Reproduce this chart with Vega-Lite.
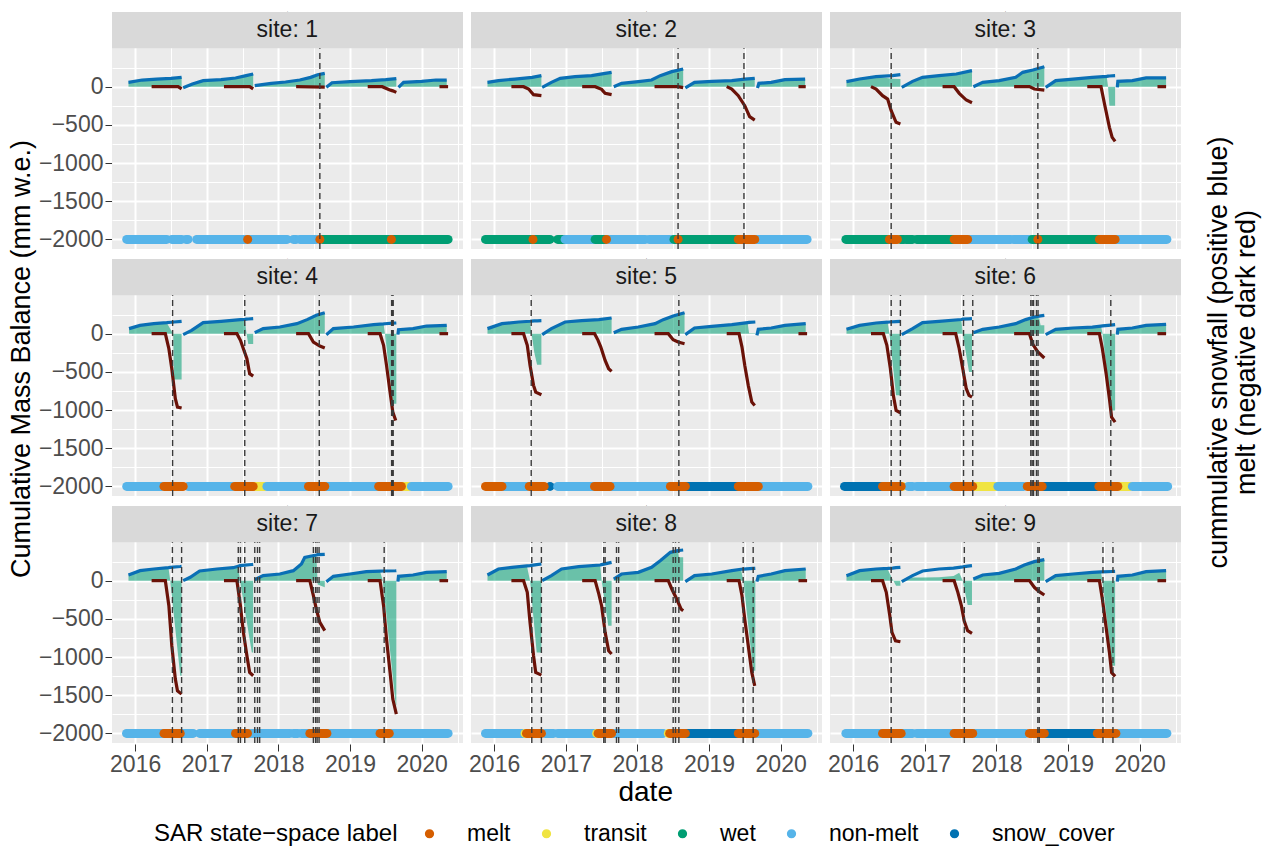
{
"$schema":"https://vega.github.io/schema/vega-lite/v6.json",
"background":"white",
"padding":{"left":8,"top":11,"right":4,"bottom":5},
"title":{"text":["cummulative snowfall (positive blue)","melt (negative dark red)"],"orient":"right","anchor":"middle","angle":-90,"baseline":"top","offset":10,"dx":76,"dy":-40,"fontSize":27,"lineHeight":28},
"vconcat":[{
"title":{"text":"Cumulative Mass Balance (mm w.e.)","orient":"left","anchor":"middle","offset":2,"dx":50,"fontSize":27},
"vconcat":[{
"data":{"values":[
{"k":"h","s":1,"t":"site: 1"},{"k":"h","s":2,"t":"site: 2"},{"k":"h","s":3,"t":"site: 3"},{"k":"h","s":4,"t":"site: 4"},{"k":"h","s":5,"t":"site: 5"},{"k":"h","s":6,"t":"site: 6"},{"k":"h","s":7,"t":"site: 7"},{"k":"h","s":8,"t":"site: 8"},{"k":"h","s":9,"t":"site: 9"},

{"k":"s","s":1,"g":1,"d":"2015-11-28","b":57,"n":57},{"k":"s","s":1,"g":1,"d":"2016-02-06","b":87,"n":87},{"k":"s","s":1,"g":1,"d":"2016-04-20","b":100,"n":100},{"k":"s","s":1,"g":1,"d":"2016-07-02","b":109,"n":109},{"k":"s","s":1,"g":1,"d":"2016-08-25","b":122,"n":122},
{"k":"s","s":1,"g":2,"d":"2016-09-02","b":-13,"n":-13},{"k":"s","s":1,"g":2,"d":"2016-10-19","b":35,"n":35},{"k":"s","s":1,"g":2,"d":"2016-12-13","b":79,"n":79},{"k":"s","s":1,"g":2,"d":"2017-03-14","b":92,"n":92},{"k":"s","s":1,"g":2,"d":"2017-05-27","b":114,"n":114},{"k":"s","s":1,"g":2,"d":"2017-07-20","b":144,"n":144},{"k":"s","s":1,"g":2,"d":"2017-08-25","b":166,"n":166},
{"k":"s","s":1,"g":3,"d":"2017-09-02","b":13,"n":13},{"k":"s","s":1,"g":3,"d":"2017-11-25","b":44,"n":44},{"k":"s","s":1,"g":3,"d":"2018-02-06","b":61,"n":61},{"k":"s","s":1,"g":3,"d":"2018-04-20","b":87,"n":87},{"k":"s","s":1,"g":3,"d":"2018-06-14","b":122,"n":122},{"k":"s","s":1,"g":3,"d":"2018-07-20","b":157,"n":157},{"k":"s","s":1,"g":3,"d":"2018-08-25","b":175,"n":175},
{"k":"s","s":1,"g":4,"d":"2018-09-02","b":-9,"n":-9},{"k":"s","s":1,"g":4,"d":"2018-10-01","b":52,"n":52},{"k":"s","s":1,"g":4,"d":"2019-01-01","b":66,"n":66},{"k":"s","s":1,"g":4,"d":"2019-04-20","b":79,"n":79},{"k":"s","s":1,"g":4,"d":"2019-07-02","b":92,"n":92},{"k":"s","s":1,"g":4,"d":"2019-08-25","b":105,"n":105},
{"k":"s","s":1,"g":5,"d":"2019-09-05","b":-9,"n":-9},{"k":"s","s":1,"g":5,"d":"2019-10-01","b":57,"n":57},{"k":"s","s":1,"g":5,"d":"2020-01-01","b":70,"n":70},{"k":"s","s":1,"g":5,"d":"2020-03-14","b":87,"n":87},{"k":"s","s":1,"g":5,"d":"2020-05-08","b":87,"n":87},
{"k":"m","s":1,"g":1,"d":"2016-03-25","m":0},{"k":"m","s":1,"g":1,"d":"2016-08-07","m":0},{"k":"m","s":1,"g":1,"d":"2016-08-25","m":-30},
{"k":"m","s":1,"g":2,"d":"2017-03-29","m":0},{"k":"m","s":1,"g":2,"d":"2017-08-07","m":0},{"k":"m","s":1,"g":2,"d":"2017-08-25","m":-30},
{"k":"m","s":1,"g":3,"d":"2018-04-01","m":0},{"k":"m","s":1,"g":3,"d":"2018-08-25","m":-5},
{"k":"m","s":1,"g":4,"d":"2019-04-01","m":0},{"k":"m","s":1,"g":4,"d":"2019-06-14","m":0},{"k":"m","s":1,"g":4,"d":"2019-07-20","m":-40},{"k":"m","s":1,"g":4,"d":"2019-08-07","m":-55},{"k":"m","s":1,"g":4,"d":"2019-08-25","m":-75},
{"k":"m","s":1,"g":5,"d":"2020-04-01","m":0},{"k":"m","s":1,"g":5,"d":"2020-05-15","m":0},
{"k":"p","s":1,"d":"2015-11-19","e":"2016-06-10","l":"non-melt"},{"k":"p","s":1,"d":"2016-07-06","e":"2016-08-25","l":"non-melt"},{"k":"p","s":1,"d":"2016-09-16","e":"2016-09-27","l":"non-melt"},{"k":"p","s":1,"d":"2016-11-10","e":"2017-07-20","l":"non-melt"},{"k":"p","s":1,"d":"2017-08-07","e":"2018-02-14","l":"non-melt"},{"k":"p","s":1,"d":"2018-03-18","e":"2018-04-01","l":"non-melt"},{"k":"p","s":1,"d":"2018-04-20","e":"2018-07-14","l":"non-melt"},{"k":"p","s":1,"d":"2018-08-14","e":"2020-05-15","l":"wet"},{"k":"p","s":1,"d":"2017-07-28","e":"2017-07-28","l":"melt"},{"k":"p","s":1,"d":"2018-07-31","e":"2018-07-31","l":"melt"},{"k":"p","s":1,"d":"2019-07-31","e":"2019-07-31","l":"melt"},
{"k":"v","s":1,"d":"2018-07-31"},

{"k":"s","s":2,"g":1,"d":"2015-11-28","b":57,"n":57},{"k":"s","s":2,"g":1,"d":"2016-01-23","b":79,"n":79},{"k":"s","s":2,"g":1,"d":"2016-04-16","b":100,"n":100},{"k":"s","s":2,"g":1,"d":"2016-07-13","b":122,"n":122},{"k":"s","s":2,"g":1,"d":"2016-08-29","b":144,"n":144},
{"k":"s","s":2,"g":2,"d":"2016-09-02","b":-9,"n":-9},{"k":"s","s":2,"g":2,"d":"2016-10-19","b":57,"n":57},{"k":"s","s":2,"g":2,"d":"2016-12-03","b":109,"n":109},{"k":"s","s":2,"g":2,"d":"2017-02-17","b":131,"n":131},{"k":"s","s":2,"g":2,"d":"2017-05-12","b":144,"n":144},{"k":"s","s":2,"g":2,"d":"2017-07-20","b":175,"n":175},{"k":"s","s":2,"g":2,"d":"2017-08-22","b":188,"n":188},
{"k":"s","s":2,"g":3,"d":"2017-09-02","b":0,"n":0},{"k":"s","s":2,"g":3,"d":"2017-10-12","b":44,"n":44},{"k":"s","s":2,"g":3,"d":"2018-01-05","b":66,"n":66},{"k":"s","s":2,"g":3,"d":"2018-03-14","b":87,"n":87},{"k":"s","s":2,"g":3,"d":"2018-04-27","b":144,"n":144},{"k":"s","s":2,"g":3,"d":"2018-06-25","b":197,"n":197},{"k":"s","s":2,"g":3,"d":"2018-08-22","b":232,"n":232},
{"k":"s","s":2,"g":4,"d":"2018-09-02","b":-17,"n":-17},{"k":"s","s":2,"g":4,"d":"2018-10-19","b":57,"n":57},{"k":"s","s":2,"g":4,"d":"2019-01-15","b":70,"n":70},{"k":"s","s":2,"g":4,"d":"2019-04-27","b":79,"n":79},{"k":"s","s":2,"g":4,"d":"2019-07-02","b":100,"n":100},{"k":"s","s":2,"g":4,"d":"2019-08-22","b":109,"n":109},
{"k":"s","s":2,"g":5,"d":"2019-09-05","b":-17,"n":-17},{"k":"s","s":2,"g":5,"d":"2019-09-12","b":44,"n":44},{"k":"s","s":2,"g":5,"d":"2019-11-14","b":57,"n":57},{"k":"s","s":2,"g":5,"d":"2020-01-23","b":92,"n":92},{"k":"s","s":2,"g":5,"d":"2020-05-05","b":100,"n":100},
{"k":"m","s":2,"g":1,"d":"2016-03-29","m":0},{"k":"m","s":2,"g":1,"d":"2016-05-30","m":0},{"k":"m","s":2,"g":1,"d":"2016-06-25","m":-30},{"k":"m","s":2,"g":1,"d":"2016-07-20","m":-105},{"k":"m","s":2,"g":1,"d":"2016-08-29","m":-118},
{"k":"m","s":2,"g":2,"d":"2017-03-25","m":0},{"k":"m","s":2,"g":2,"d":"2017-05-30","m":0},{"k":"m","s":2,"g":2,"d":"2017-07-02","m":-35},{"k":"m","s":2,"g":2,"d":"2017-07-20","m":-87},{"k":"m","s":2,"g":2,"d":"2017-08-22","m":-105},
{"k":"m","s":2,"g":3,"d":"2018-03-29","m":0},{"k":"m","s":2,"g":3,"d":"2018-07-27","m":0},{"k":"m","s":2,"g":3,"d":"2018-08-22","m":-13},
{"k":"m","s":2,"g":4,"d":"2019-04-01","m":0},{"k":"m","s":2,"g":4,"d":"2019-04-27","m":-31},{"k":"m","s":2,"g":4,"d":"2019-05-30","m":-118},{"k":"m","s":2,"g":4,"d":"2019-07-02","m":-249},{"k":"m","s":2,"g":4,"d":"2019-07-27","m":-393},{"k":"m","s":2,"g":4,"d":"2019-08-22","m":-437},
{"k":"m","s":2,"g":5,"d":"2020-04-01","m":0},{"k":"m","s":2,"g":5,"d":"2020-05-08","m":0},
{"k":"p","s":2,"d":"2015-11-18","e":"2016-10-12","l":"wet"},{"k":"p","s":2,"d":"2016-11-20","e":"2016-12-28","l":"wet"},{"k":"p","s":2,"d":"2016-12-28","e":"2017-05-30","l":"non-melt"},{"k":"p","s":2,"d":"2017-05-30","e":"2017-07-20","l":"wet"},{"k":"p","s":2,"d":"2017-08-07","e":"2018-02-10","l":"non-melt"},{"k":"p","s":2,"d":"2018-03-01","e":"2018-06-25","l":"non-melt"},{"k":"p","s":2,"d":"2018-07-06","e":"2019-05-30","l":"wet"},{"k":"p","s":2,"d":"2019-09-02","e":"2020-05-15","l":"non-melt"},{"k":"p","s":2,"d":"2016-07-17","e":"2016-07-17","l":"melt"},{"k":"p","s":2,"d":"2017-07-27","e":"2017-07-27","l":"melt"},{"k":"p","s":2,"d":"2018-07-27","e":"2018-07-27","l":"melt"},{"k":"p","s":2,"d":"2019-05-30","e":"2019-08-22","l":"melt"},
{"k":"v","s":2,"d":"2018-07-27"},{"k":"v","s":2,"d":"2019-06-28"},

{"k":"s","s":3,"g":1,"d":"2015-11-28","b":66,"n":66},{"k":"s","s":3,"g":1,"d":"2016-02-03","b":100,"n":100},{"k":"s","s":3,"g":1,"d":"2016-04-27","b":131,"n":131},{"k":"s","s":3,"g":1,"d":"2016-07-20","b":144,"n":105},{"k":"s","s":3,"g":1,"d":"2016-08-29","b":157,"n":100},
{"k":"s","s":3,"g":2,"d":"2016-09-05","b":-9,"n":-9},{"k":"s","s":3,"g":2,"d":"2016-10-30","b":70,"n":70},{"k":"s","s":3,"g":2,"d":"2016-12-20","b":122,"n":122},{"k":"s","s":3,"g":2,"d":"2017-03-14","b":144,"n":144},{"k":"s","s":3,"g":2,"d":"2017-06-10","b":166,"n":166},{"k":"s","s":3,"g":2,"d":"2017-08-29","b":210,"n":210},
{"k":"s","s":3,"g":3,"d":"2017-09-05","b":0,"n":0},{"k":"s","s":3,"g":3,"d":"2017-10-23","b":57,"n":57},{"k":"s","s":3,"g":3,"d":"2018-01-15","b":79,"n":79},{"k":"s","s":3,"g":3,"d":"2018-04-09","b":122,"n":122},{"k":"s","s":3,"g":3,"d":"2018-05-15","b":188,"n":188},{"k":"s","s":3,"g":3,"d":"2018-07-06","b":219,"n":219},{"k":"s","s":3,"g":3,"d":"2018-09-02","b":262,"n":262},
{"k":"s","s":3,"g":4,"d":"2018-09-09","b":-9,"n":-9},{"k":"s","s":3,"g":4,"d":"2018-10-30","b":79,"n":79},{"k":"s","s":3,"g":4,"d":"2019-01-26","b":100,"n":100},{"k":"s","s":3,"g":4,"d":"2019-05-05","b":122,"n":122},{"k":"s","s":3,"g":4,"d":"2019-07-17","b":135,"n":135},{"k":"s","s":3,"g":4,"d":"2019-07-24","b":138,"n":0},{"k":"s","s":3,"g":4,"d":"2019-07-31","b":140,"n":-250},{"k":"s","s":3,"g":4,"d":"2019-08-29","b":144,"n":-250},
{"k":"s","s":3,"g":5,"d":"2019-09-09","b":-9,"n":-9},{"k":"s","s":3,"g":5,"d":"2019-09-12","b":70,"n":70},{"k":"s","s":3,"g":5,"d":"2019-11-25","b":79,"n":79},{"k":"s","s":3,"g":5,"d":"2020-02-03","b":114,"n":114},{"k":"s","s":3,"g":5,"d":"2020-05-15","b":114,"n":114},
{"k":"m","s":3,"g":1,"d":"2016-04-01","m":0},{"k":"m","s":3,"g":1,"d":"2016-04-27","m":-31},{"k":"m","s":3,"g":1,"d":"2016-05-30","m":-118},{"k":"m","s":3,"g":1,"d":"2016-06-25","m":-162},{"k":"m","s":3,"g":1,"d":"2016-07-13","m":-315},{"k":"m","s":3,"g":1,"d":"2016-08-07","m":-467},{"k":"m","s":3,"g":1,"d":"2016-08-29","m":-489},
{"k":"m","s":3,"g":2,"d":"2017-04-01","m":0},{"k":"m","s":3,"g":2,"d":"2017-05-30","m":0},{"k":"m","s":3,"g":2,"d":"2017-06-25","m":-87},{"k":"m","s":3,"g":2,"d":"2017-07-31","m":-175},{"k":"m","s":3,"g":2,"d":"2017-08-29","m":-210},
{"k":"m","s":3,"g":3,"d":"2018-04-01","m":0},{"k":"m","s":3,"g":3,"d":"2018-06-18","m":0},{"k":"m","s":3,"g":3,"d":"2018-07-13","m":-31},{"k":"m","s":3,"g":3,"d":"2018-09-02","m":-44},
{"k":"m","s":3,"g":4,"d":"2019-04-09","m":0},{"k":"m","s":3,"g":4,"d":"2019-06-18","m":0},{"k":"m","s":3,"g":4,"d":"2019-07-06","m":-227},{"k":"m","s":3,"g":4,"d":"2019-07-31","m":-533},{"k":"m","s":3,"g":4,"d":"2019-08-14","m":-664},{"k":"m","s":3,"g":4,"d":"2019-08-29","m":-716},
{"k":"m","s":3,"g":5,"d":"2020-04-01","m":0},{"k":"m","s":3,"g":5,"d":"2020-05-15","m":0},
{"k":"p","s":3,"d":"2015-11-25","e":"2016-07-04","l":"wet"},{"k":"p","s":3,"d":"2016-08-29","e":"2016-09-16","l":"wet"},{"k":"p","s":3,"d":"2016-09-27","e":"2016-10-30","l":"wet"},{"k":"p","s":3,"d":"2016-11-20","e":"2017-05-30","l":"wet"},{"k":"p","s":3,"d":"2017-08-14","e":"2018-03-14","l":"non-melt"},{"k":"p","s":3,"d":"2018-03-29","e":"2018-07-02","l":"non-melt"},{"k":"p","s":3,"d":"2018-07-02","e":"2019-06-07","l":"wet"},{"k":"p","s":3,"d":"2019-09-02","e":"2020-05-19","l":"non-melt"},{"k":"p","s":3,"d":"2016-07-04","e":"2016-08-14","l":"melt"},{"k":"p","s":3,"d":"2017-05-30","e":"2017-08-07","l":"melt"},{"k":"p","s":3,"d":"2018-07-31","e":"2018-07-31","l":"melt"},{"k":"p","s":3,"d":"2019-06-10","e":"2019-08-29","l":"melt"},
{"k":"v","s":3,"d":"2016-07-13"},{"k":"v","s":3,"d":"2018-07-31"},

{"k":"s","s":4,"g":1,"d":"2015-12-01","b":66,"n":66},{"k":"s","s":4,"g":1,"d":"2016-01-26","b":109,"n":109},{"k":"s","s":4,"g":1,"d":"2016-04-05","b":131,"n":131},{"k":"s","s":4,"g":1,"d":"2016-06-10","b":144,"n":144},{"k":"s","s":4,"g":1,"d":"2016-07-02","b":150,"n":44},{"k":"s","s":4,"g":1,"d":"2016-07-13","b":152,"n":0},{"k":"s","s":4,"g":1,"d":"2016-07-17","b":153,"n":-600},{"k":"s","s":4,"g":1,"d":"2016-08-25","b":162,"n":-600},
{"k":"s","s":4,"g":2,"d":"2016-09-02","b":-13,"n":-13},{"k":"s","s":4,"g":2,"d":"2016-10-15","b":44,"n":44},{"k":"s","s":4,"g":2,"d":"2016-12-13","b":144,"n":144},{"k":"s","s":4,"g":2,"d":"2017-03-14","b":162,"n":162},{"k":"s","s":4,"g":2,"d":"2017-06-21","b":184,"n":184},{"k":"s","s":4,"g":2,"d":"2017-07-14","b":188,"n":170},{"k":"s","s":4,"g":2,"d":"2017-07-22","b":190,"n":0},{"k":"s","s":4,"g":2,"d":"2017-07-31","b":192,"n":-135},{"k":"s","s":4,"g":2,"d":"2017-08-25","b":197,"n":-135},
{"k":"s","s":4,"g":3,"d":"2017-09-02","b":13,"n":13},{"k":"s","s":4,"g":3,"d":"2017-10-15","b":66,"n":66},{"k":"s","s":4,"g":3,"d":"2018-01-08","b":87,"n":87},{"k":"s","s":4,"g":3,"d":"2018-04-05","b":131,"n":131},{"k":"s","s":4,"g":3,"d":"2018-05-27","b":184,"n":184},{"k":"s","s":4,"g":3,"d":"2018-07-13","b":240,"n":240},{"k":"s","s":4,"g":3,"d":"2018-08-25","b":275,"n":275},
{"k":"s","s":4,"g":4,"d":"2018-09-02","b":-13,"n":-13},{"k":"s","s":4,"g":4,"d":"2018-10-08","b":66,"n":66},{"k":"s","s":4,"g":4,"d":"2019-01-19","b":87,"n":87},{"k":"s","s":4,"g":4,"d":"2019-05-01","b":118,"n":118},{"k":"s","s":4,"g":4,"d":"2019-06-21","b":128,"n":128},{"k":"s","s":4,"g":4,"d":"2019-06-28","b":130,"n":0},{"k":"s","s":4,"g":4,"d":"2019-08-07","b":137,"n":-918},{"k":"s","s":4,"g":4,"d":"2019-08-25","b":140,"n":-918},
{"k":"s","s":4,"g":5,"d":"2019-09-02","b":-13,"n":-13},{"k":"s","s":4,"g":5,"d":"2019-09-05","b":52,"n":52},{"k":"s","s":4,"g":5,"d":"2019-11-18","b":66,"n":66},{"k":"s","s":4,"g":5,"d":"2020-01-26","b":100,"n":100},{"k":"s","s":4,"g":5,"d":"2020-05-08","b":109,"n":109},
{"k":"m","s":4,"g":1,"d":"2016-03-25","m":0},{"k":"m","s":4,"g":1,"d":"2016-06-03","m":0},{"k":"m","s":4,"g":1,"d":"2016-06-21","m":-197},{"k":"m","s":4,"g":1,"d":"2016-07-06","m":-459},{"k":"m","s":4,"g":1,"d":"2016-07-24","m":-852},{"k":"m","s":4,"g":1,"d":"2016-08-04","m":-961},{"k":"m","s":4,"g":1,"d":"2016-08-25","m":-974},
{"k":"m","s":4,"g":2,"d":"2017-03-29","m":0},{"k":"m","s":4,"g":2,"d":"2017-06-03","m":0},{"k":"m","s":4,"g":2,"d":"2017-06-21","m":-87},{"k":"m","s":4,"g":2,"d":"2017-07-06","m":-197},{"k":"m","s":4,"g":2,"d":"2017-07-24","m":-328},{"k":"m","s":4,"g":2,"d":"2017-08-07","m":-524},{"k":"m","s":4,"g":2,"d":"2017-08-25","m":-555},
{"k":"m","s":4,"g":3,"d":"2018-04-01","m":0},{"k":"m","s":4,"g":3,"d":"2018-06-03","m":0},{"k":"m","s":4,"g":3,"d":"2018-06-28","m":-109},{"k":"m","s":4,"g":3,"d":"2018-07-31","m":-162},{"k":"m","s":4,"g":3,"d":"2018-08-25","m":-188},
{"k":"m","s":4,"g":4,"d":"2019-04-01","m":0},{"k":"m","s":4,"g":4,"d":"2019-06-03","m":0},{"k":"m","s":4,"g":4,"d":"2019-06-21","m":-153},{"k":"m","s":4,"g":4,"d":"2019-07-06","m":-415},{"k":"m","s":4,"g":4,"d":"2019-07-24","m":-765},{"k":"m","s":4,"g":4,"d":"2019-08-07","m":-1027},{"k":"m","s":4,"g":4,"d":"2019-08-22","m":-1136},
{"k":"m","s":4,"g":5,"d":"2020-04-01","m":0},{"k":"m","s":4,"g":5,"d":"2020-05-15","m":0},
{"k":"p","s":4,"d":"2015-11-19","e":"2016-05-15","l":"non-melt"},{"k":"p","s":4,"d":"2016-09-27","e":"2017-05-12","l":"non-melt"},{"k":"p","s":4,"d":"2017-08-29","e":"2017-10-23","l":"transit"},{"k":"p","s":4,"d":"2017-11-03","e":"2018-05-23","l":"non-melt"},{"k":"p","s":4,"d":"2018-09-02","e":"2019-05-19","l":"non-melt"},{"k":"p","s":4,"d":"2019-09-20","e":"2019-11-03","l":"transit"},{"k":"p","s":4,"d":"2019-11-10","e":"2020-05-15","l":"non-melt"},{"k":"p","s":4,"d":"2016-05-27","e":"2016-09-02","l":"melt"},{"k":"p","s":4,"d":"2017-05-23","e":"2017-08-25","l":"melt"},{"k":"p","s":4,"d":"2018-06-03","e":"2018-08-25","l":"melt"},{"k":"p","s":4,"d":"2019-05-27","e":"2019-09-20","l":"melt"},
{"k":"v","s":4,"d":"2016-07-10"},{"k":"v","s":4,"d":"2017-07-13"},{"k":"v","s":4,"d":"2018-07-28"},{"k":"v","s":4,"d":"2019-08-01"},{"k":"v","s":4,"d":"2019-08-05"},{"k":"v","s":4,"d":"2019-08-09"},

{"k":"s","s":5,"g":1,"d":"2015-11-28","b":66,"n":66},{"k":"s","s":5,"g":1,"d":"2016-02-10","b":131,"n":131},{"k":"s","s":5,"g":1,"d":"2016-05-05","b":153,"n":153},{"k":"s","s":5,"g":1,"d":"2016-07-02","b":163,"n":163},{"k":"s","s":5,"g":1,"d":"2016-07-10","b":165,"n":0},{"k":"s","s":5,"g":1,"d":"2016-07-24","b":167,"n":-250},{"k":"s","s":5,"g":1,"d":"2016-08-07","b":168,"n":-406},{"k":"s","s":5,"g":1,"d":"2016-08-29","b":170,"n":-406},
{"k":"s","s":5,"g":2,"d":"2016-09-02","b":-13,"n":-13},{"k":"s","s":5,"g":2,"d":"2016-10-19","b":66,"n":66},{"k":"s","s":5,"g":2,"d":"2016-12-28","b":153,"n":153},{"k":"s","s":5,"g":2,"d":"2017-03-22","b":170,"n":170},{"k":"s","s":5,"g":2,"d":"2017-06-18","b":184,"n":184},{"k":"s","s":5,"g":2,"d":"2017-08-22","b":205,"n":205},
{"k":"s","s":5,"g":3,"d":"2017-09-02","b":13,"n":13},{"k":"s","s":5,"g":3,"d":"2017-10-12","b":57,"n":57},{"k":"s","s":5,"g":3,"d":"2018-01-05","b":87,"n":87},{"k":"s","s":5,"g":3,"d":"2018-04-01","b":131,"n":131},{"k":"s","s":5,"g":3,"d":"2018-05-12","b":184,"n":184},{"k":"s","s":5,"g":3,"d":"2018-07-02","b":232,"n":232},{"k":"s","s":5,"g":3,"d":"2018-08-29","b":275,"n":275},
{"k":"s","s":5,"g":4,"d":"2018-09-02","b":-13,"n":-13},{"k":"s","s":5,"g":4,"d":"2018-10-19","b":74,"n":74},{"k":"s","s":5,"g":4,"d":"2019-01-15","b":96,"n":96},{"k":"s","s":5,"g":4,"d":"2019-04-27","b":118,"n":118},{"k":"s","s":5,"g":4,"d":"2019-07-17","b":145,"n":140},{"k":"s","s":5,"g":4,"d":"2019-07-24","b":147,"n":5},{"k":"s","s":5,"g":4,"d":"2019-08-25","b":153,"n":5},
{"k":"s","s":5,"g":5,"d":"2019-09-02","b":-22,"n":-22},{"k":"s","s":5,"g":5,"d":"2019-09-09","b":57,"n":57},{"k":"s","s":5,"g":5,"d":"2019-11-14","b":74,"n":74},{"k":"s","s":5,"g":5,"d":"2020-01-23","b":109,"n":109},{"k":"s","s":5,"g":5,"d":"2020-05-08","b":131,"n":131},
{"k":"m","s":5,"g":1,"d":"2016-03-29","m":0},{"k":"m","s":5,"g":1,"d":"2016-05-30","m":0},{"k":"m","s":5,"g":1,"d":"2016-06-18","m":-153},{"k":"m","s":5,"g":1,"d":"2016-07-02","m":-415},{"k":"m","s":5,"g":1,"d":"2016-07-20","m":-677},{"k":"m","s":5,"g":1,"d":"2016-07-31","m":-765},{"k":"m","s":5,"g":1,"d":"2016-08-29","m":-800},
{"k":"m","s":5,"g":2,"d":"2017-03-25","m":0},{"k":"m","s":5,"g":2,"d":"2017-05-27","m":0},{"k":"m","s":5,"g":2,"d":"2017-06-14","m":-87},{"k":"m","s":5,"g":2,"d":"2017-06-28","m":-175},{"k":"m","s":5,"g":2,"d":"2017-07-20","m":-350},{"k":"m","s":5,"g":2,"d":"2017-08-07","m":-459},{"k":"m","s":5,"g":2,"d":"2017-08-22","m":-494},
{"k":"m","s":5,"g":3,"d":"2018-03-29","m":0},{"k":"m","s":5,"g":3,"d":"2018-06-07","m":0},{"k":"m","s":5,"g":3,"d":"2018-07-02","m":-79},{"k":"m","s":5,"g":3,"d":"2018-07-27","m":-109},{"k":"m","s":5,"g":3,"d":"2018-08-29","m":-131},
{"k":"m","s":5,"g":4,"d":"2019-04-01","m":0},{"k":"m","s":5,"g":4,"d":"2019-06-03","m":0},{"k":"m","s":5,"g":4,"d":"2019-06-18","m":-175},{"k":"m","s":5,"g":4,"d":"2019-07-02","m":-415},{"k":"m","s":5,"g":4,"d":"2019-07-20","m":-677},{"k":"m","s":5,"g":4,"d":"2019-08-07","m":-896},{"k":"m","s":5,"g":4,"d":"2019-08-22","m":-940},
{"k":"m","s":5,"g":5,"d":"2020-04-01","m":0},{"k":"m","s":5,"g":5,"d":"2020-05-15","m":0},
{"k":"p","s":5,"d":"2016-02-17","e":"2016-06-18","l":"non-melt"},{"k":"p","s":5,"d":"2016-10-12","e":"2016-10-12","l":"snow_cover"},{"k":"p","s":5,"d":"2016-11-20","e":"2017-05-23","l":"non-melt"},{"k":"p","s":5,"d":"2017-08-22","e":"2018-06-25","l":"non-melt"},{"k":"p","s":5,"d":"2018-09-02","e":"2019-05-30","l":"snow_cover"},{"k":"p","s":5,"d":"2019-09-16","e":"2020-05-19","l":"non-melt"},{"k":"p","s":5,"d":"2015-11-18","e":"2016-02-10","l":"melt"},{"k":"p","s":5,"d":"2016-06-28","e":"2016-09-12","l":"melt"},{"k":"p","s":5,"d":"2017-05-27","e":"2017-08-14","l":"melt"},{"k":"p","s":5,"d":"2018-06-18","e":"2018-09-02","l":"melt"},{"k":"p","s":5,"d":"2019-05-30","e":"2019-09-09","l":"melt"},
{"k":"v","s":5,"d":"2016-07-08"},{"k":"v","s":5,"d":"2018-07-31"},

{"k":"s","s":6,"g":1,"d":"2015-11-28","b":57,"n":57},{"k":"s","s":6,"g":1,"d":"2016-02-03","b":109,"n":109},{"k":"s","s":6,"g":1,"d":"2016-04-27","b":140,"n":140},{"k":"s","s":6,"g":1,"d":"2016-06-25","b":150,"n":150},{"k":"s","s":6,"g":1,"d":"2016-07-04","b":153,"n":0},{"k":"s","s":6,"g":1,"d":"2016-08-07","b":158,"n":-808},{"k":"s","s":6,"g":1,"d":"2016-08-29","b":162,"n":-808},
{"k":"s","s":6,"g":2,"d":"2016-09-05","b":-13,"n":-13},{"k":"s","s":6,"g":2,"d":"2016-10-30","b":66,"n":66},{"k":"s","s":6,"g":2,"d":"2016-12-20","b":144,"n":144},{"k":"s","s":6,"g":2,"d":"2017-03-14","b":162,"n":162},{"k":"s","s":6,"g":2,"d":"2017-07-06","b":186,"n":185},{"k":"s","s":6,"g":2,"d":"2017-07-13","b":190,"n":0},{"k":"s","s":6,"g":2,"d":"2017-08-14","b":195,"n":-503},{"k":"s","s":6,"g":2,"d":"2017-08-29","b":197,"n":-503},
{"k":"s","s":6,"g":3,"d":"2017-09-05","b":13,"n":13},{"k":"s","s":6,"g":3,"d":"2017-10-23","b":57,"n":57},{"k":"s","s":6,"g":3,"d":"2018-01-15","b":87,"n":87},{"k":"s","s":6,"g":3,"d":"2018-04-09","b":131,"n":131},{"k":"s","s":6,"g":3,"d":"2018-05-30","b":184,"n":184},{"k":"s","s":6,"g":3,"d":"2018-07-13","b":218,"n":218},{"k":"s","s":6,"g":3,"d":"2018-08-07","b":230,"n":200},{"k":"s","s":6,"g":3,"d":"2018-08-14","b":233,"n":110},{"k":"s","s":6,"g":3,"d":"2018-09-02","b":240,"n":110},
{"k":"s","s":6,"g":4,"d":"2018-09-09","b":-13,"n":-13},{"k":"s","s":6,"g":4,"d":"2018-10-30","b":57,"n":57},{"k":"s","s":6,"g":4,"d":"2019-01-26","b":74,"n":74},{"k":"s","s":6,"g":4,"d":"2019-05-05","b":87,"n":87},{"k":"s","s":6,"g":4,"d":"2019-06-18","b":100,"n":100},{"k":"s","s":6,"g":4,"d":"2019-06-26","b":102,"n":0},{"k":"s","s":6,"g":4,"d":"2019-08-07","b":112,"n":-1005},{"k":"s","s":6,"g":4,"d":"2019-08-29","b":118,"n":-1005},
{"k":"s","s":6,"g":5,"d":"2019-09-09","b":-13,"n":-13},{"k":"s","s":6,"g":5,"d":"2019-09-12","b":57,"n":57},{"k":"s","s":6,"g":5,"d":"2019-11-25","b":74,"n":74},{"k":"s","s":6,"g":5,"d":"2020-02-03","b":109,"n":109},{"k":"s","s":6,"g":5,"d":"2020-05-15","b":122,"n":122},
{"k":"m","s":6,"g":1,"d":"2016-04-01","m":0},{"k":"m","s":6,"g":1,"d":"2016-06-03","m":0},{"k":"m","s":6,"g":1,"d":"2016-06-21","m":-153},{"k":"m","s":6,"g":1,"d":"2016-07-09","m":-459},{"k":"m","s":6,"g":1,"d":"2016-07-24","m":-808},{"k":"m","s":6,"g":1,"d":"2016-08-07","m":-1005},{"k":"m","s":6,"g":1,"d":"2016-08-29","m":-1036},
{"k":"m","s":6,"g":2,"d":"2017-04-01","m":0},{"k":"m","s":6,"g":2,"d":"2017-06-07","m":0},{"k":"m","s":6,"g":2,"d":"2017-06-25","m":-197},{"k":"m","s":6,"g":2,"d":"2017-07-13","m":-459},{"k":"m","s":6,"g":2,"d":"2017-07-31","m":-721},{"k":"m","s":6,"g":2,"d":"2017-08-14","m":-808},{"k":"m","s":6,"g":2,"d":"2017-08-29","m":-830},
{"k":"m","s":6,"g":3,"d":"2018-04-01","m":0},{"k":"m","s":6,"g":3,"d":"2018-06-18","m":0},{"k":"m","s":6,"g":3,"d":"2018-07-06","m":-144},{"k":"m","s":6,"g":3,"d":"2018-07-31","m":-240},{"k":"m","s":6,"g":3,"d":"2018-09-02","m":-319},
{"k":"m","s":6,"g":4,"d":"2019-04-09","m":0},{"k":"m","s":6,"g":4,"d":"2019-06-10","m":0},{"k":"m","s":6,"g":4,"d":"2019-06-25","m":-197},{"k":"m","s":6,"g":4,"d":"2019-07-13","m":-503},{"k":"m","s":6,"g":4,"d":"2019-07-31","m":-852},{"k":"m","s":6,"g":4,"d":"2019-08-11","m":-1093},{"k":"m","s":6,"g":4,"d":"2019-08-29","m":-1158},
{"k":"m","s":6,"g":5,"d":"2020-04-01","m":0},{"k":"m","s":6,"g":5,"d":"2020-05-15","m":0},
{"k":"p","s":6,"d":"2015-11-18","e":"2016-05-23","l":"snow_cover"},{"k":"p","s":6,"d":"2016-09-09","e":"2016-09-09","l":"transit"},{"k":"p","s":6,"d":"2016-10-08","e":"2016-10-30","l":"non-melt"},{"k":"p","s":6,"d":"2016-11-20","e":"2017-05-30","l":"non-melt"},{"k":"p","s":6,"d":"2017-09-09","e":"2018-01-01","l":"transit"},{"k":"p","s":6,"d":"2018-01-08","e":"2018-05-19","l":"non-melt"},{"k":"p","s":6,"d":"2018-08-25","e":"2019-05-30","l":"snow_cover"},{"k":"p","s":6,"d":"2019-09-16","e":"2019-11-14","l":"transit"},{"k":"p","s":6,"d":"2019-11-25","e":"2020-05-23","l":"non-melt"},{"k":"p","s":6,"d":"2016-05-30","e":"2016-09-02","l":"melt"},{"k":"p","s":6,"d":"2017-05-30","e":"2017-09-02","l":"melt"},{"k":"p","s":6,"d":"2018-06-07","e":"2018-08-22","l":"melt"},{"k":"p","s":6,"d":"2019-06-07","e":"2019-09-12","l":"melt"},
{"k":"v","s":6,"d":"2016-07-13"},{"k":"v","s":6,"d":"2016-08-29"},{"k":"v","s":6,"d":"2017-07-17"},{"k":"v","s":6,"d":"2017-09-02"},{"k":"v","s":6,"d":"2018-06-25"},{"k":"v","s":6,"d":"2018-07-02"},{"k":"v","s":6,"d":"2018-07-09"},{"k":"v","s":6,"d":"2018-07-24"},{"k":"v","s":6,"d":"2018-08-01"},{"k":"v","s":6,"d":"2019-08-07"},

{"k":"s","s":7,"g":1,"d":"2015-11-28","b":74,"n":74},{"k":"s","s":7,"g":1,"d":"2016-01-26","b":131,"n":131},{"k":"s","s":7,"g":1,"d":"2016-04-05","b":153,"n":153},{"k":"s","s":7,"g":1,"d":"2016-06-19","b":172,"n":170},{"k":"s","s":7,"g":1,"d":"2016-06-28","b":175,"n":0},{"k":"s","s":7,"g":1,"d":"2016-08-18","b":186,"n":-1245},{"k":"s","s":7,"g":1,"d":"2016-08-25","b":188,"n":-1245},
{"k":"s","s":7,"g":2,"d":"2016-09-02","b":0,"n":0},{"k":"s","s":7,"g":2,"d":"2016-10-08","b":44,"n":44},{"k":"s","s":7,"g":2,"d":"2016-11-25","b":127,"n":127},{"k":"s","s":7,"g":2,"d":"2017-02-21","b":153,"n":153},{"k":"s","s":7,"g":2,"d":"2017-05-15","b":170,"n":170},{"k":"s","s":7,"g":2,"d":"2017-06-10","b":190,"n":180},{"k":"s","s":7,"g":2,"d":"2017-06-19","b":197,"n":0},{"k":"s","s":7,"g":2,"d":"2017-08-18","b":212,"n":-940},{"k":"s","s":7,"g":2,"d":"2017-08-25","b":214,"n":-940},
{"k":"s","s":7,"g":3,"d":"2017-09-02","b":13,"n":13},{"k":"s","s":7,"g":3,"d":"2017-10-15","b":66,"n":66},{"k":"s","s":7,"g":3,"d":"2018-01-08","b":87,"n":87},{"k":"s","s":7,"g":3,"d":"2018-03-18","b":131,"n":131},{"k":"s","s":7,"g":3,"d":"2018-04-28","b":218,"n":218},{"k":"s","s":7,"g":3,"d":"2018-05-15","b":306,"n":306},{"k":"s","s":7,"g":3,"d":"2018-07-13","b":336,"n":336},{"k":"s","s":7,"g":3,"d":"2018-07-20","b":340,"n":-50},{"k":"s","s":7,"g":3,"d":"2018-08-25","b":345,"n":-87},
{"k":"s","s":7,"g":4,"d":"2018-09-02","b":-13,"n":-13},{"k":"s","s":7,"g":4,"d":"2018-10-08","b":57,"n":57},{"k":"s","s":7,"g":4,"d":"2019-01-01","b":87,"n":87},{"k":"s","s":7,"g":4,"d":"2019-03-25","b":118,"n":118},{"k":"s","s":7,"g":4,"d":"2019-06-03","b":125,"n":125},{"k":"s","s":7,"g":4,"d":"2019-06-17","b":127,"n":0},{"k":"s","s":7,"g":4,"d":"2019-08-22","b":130,"n":-1630},{"k":"s","s":7,"g":4,"d":"2019-08-25","b":131,"n":-1630},
{"k":"s","s":7,"g":5,"d":"2019-09-02","b":-13,"n":-13},{"k":"s","s":7,"g":5,"d":"2019-09-05","b":57,"n":57},{"k":"s","s":7,"g":5,"d":"2019-11-18","b":74,"n":74},{"k":"s","s":7,"g":5,"d":"2020-01-26","b":109,"n":109},{"k":"s","s":7,"g":5,"d":"2020-05-08","b":118,"n":118},
{"k":"m","s":7,"g":1,"d":"2016-03-25","m":0},{"k":"m","s":7,"g":1,"d":"2016-06-03","m":0},{"k":"m","s":7,"g":1,"d":"2016-06-21","m":-328},{"k":"m","s":7,"g":1,"d":"2016-07-06","m":-852},{"k":"m","s":7,"g":1,"d":"2016-07-24","m":-1289},{"k":"m","s":7,"g":1,"d":"2016-08-04","m":-1442},{"k":"m","s":7,"g":1,"d":"2016-08-25","m":-1486},
{"k":"m","s":7,"g":2,"d":"2017-03-29","m":0},{"k":"m","s":7,"g":2,"d":"2017-06-03","m":0},{"k":"m","s":7,"g":2,"d":"2017-06-21","m":-328},{"k":"m","s":7,"g":2,"d":"2017-07-06","m":-677},{"k":"m","s":7,"g":2,"d":"2017-07-24","m":-983},{"k":"m","s":7,"g":2,"d":"2017-08-07","m":-1202},{"k":"m","s":7,"g":2,"d":"2017-08-25","m":-1245},
{"k":"m","s":7,"g":3,"d":"2018-04-01","m":0},{"k":"m","s":7,"g":3,"d":"2018-06-10","m":0},{"k":"m","s":7,"g":3,"d":"2018-06-28","m":-197},{"k":"m","s":7,"g":3,"d":"2018-07-13","m":-372},{"k":"m","s":7,"g":3,"d":"2018-07-31","m":-546},{"k":"m","s":7,"g":3,"d":"2018-08-25","m":-655},
{"k":"m","s":7,"g":4,"d":"2019-04-01","m":0},{"k":"m","s":7,"g":4,"d":"2019-06-03","m":0},{"k":"m","s":7,"g":4,"d":"2019-06-21","m":-328},{"k":"m","s":7,"g":4,"d":"2019-07-06","m":-765},{"k":"m","s":7,"g":4,"d":"2019-07-24","m":-1202},{"k":"m","s":7,"g":4,"d":"2019-08-07","m":-1551},{"k":"m","s":7,"g":4,"d":"2019-08-25","m":-1748},
{"k":"m","s":7,"g":5,"d":"2020-04-01","m":0},{"k":"m","s":7,"g":5,"d":"2020-05-15","m":0},
{"k":"p","s":7,"d":"2015-11-18","e":"2016-05-23","l":"non-melt"},{"k":"p","s":7,"d":"2016-08-25","e":"2016-10-23","l":"non-melt"},{"k":"p","s":7,"d":"2016-11-25","e":"2017-05-19","l":"non-melt"},{"k":"p","s":7,"d":"2017-07-31","e":"2018-02-28","l":"non-melt"},{"k":"p","s":7,"d":"2018-03-18","e":"2018-04-10","l":"non-melt"},{"k":"p","s":7,"d":"2018-04-28","e":"2018-06-03","l":"non-melt"},{"k":"p","s":7,"d":"2018-09-09","e":"2019-06-03","l":"non-melt"},{"k":"p","s":7,"d":"2019-07-20","e":"2020-05-15","l":"non-melt"},{"k":"p","s":7,"d":"2016-05-27","e":"2016-08-18","l":"melt"},{"k":"p","s":7,"d":"2017-05-27","e":"2017-07-27","l":"melt"},{"k":"p","s":7,"d":"2018-06-10","e":"2018-09-05","l":"melt"},{"k":"p","s":7,"d":"2019-06-03","e":"2019-07-20","l":"melt"},
{"k":"v","s":7,"d":"2016-07-09"},{"k":"v","s":7,"d":"2016-08-25"},{"k":"v","s":7,"d":"2017-06-10"},{"k":"v","s":7,"d":"2017-06-21"},{"k":"v","s":7,"d":"2017-07-13"},{"k":"v","s":7,"d":"2017-09-02"},{"k":"v","s":7,"d":"2017-09-16"},{"k":"v","s":7,"d":"2017-09-27"},{"k":"v","s":7,"d":"2018-06-28"},{"k":"v","s":7,"d":"2018-07-09"},{"k":"v","s":7,"d":"2018-07-17"},{"k":"v","s":7,"d":"2018-07-27"},{"k":"v","s":7,"d":"2019-06-24"},

{"k":"s","s":8,"g":1,"d":"2015-11-28","b":74,"n":74},{"k":"s","s":8,"g":1,"d":"2016-01-23","b":153,"n":153},{"k":"s","s":8,"g":1,"d":"2016-04-01","b":175,"n":175},{"k":"s","s":8,"g":1,"d":"2016-06-16","b":195,"n":195},{"k":"s","s":8,"g":1,"d":"2016-07-02","b":197,"n":0},{"k":"s","s":8,"g":1,"d":"2016-08-05","b":210,"n":-940},{"k":"s","s":8,"g":1,"d":"2016-08-29","b":218,"n":-940},
{"k":"s","s":8,"g":2,"d":"2016-09-02","b":0,"n":0},{"k":"s","s":8,"g":2,"d":"2016-10-19","b":66,"n":66},{"k":"s","s":8,"g":2,"d":"2016-12-10","b":153,"n":153},{"k":"s","s":8,"g":2,"d":"2017-03-07","b":184,"n":184},{"k":"s","s":8,"g":2,"d":"2017-06-25","b":205,"n":200},{"k":"s","s":8,"g":2,"d":"2017-07-02","b":210,"n":0},{"k":"s","s":8,"g":2,"d":"2017-08-05","b":230,"n":-590},{"k":"s","s":8,"g":2,"d":"2017-08-22","b":240,"n":-590},
{"k":"s","s":8,"g":3,"d":"2017-09-02","b":22,"n":22},{"k":"s","s":8,"g":3,"d":"2017-10-12","b":87,"n":87},{"k":"s","s":8,"g":3,"d":"2018-01-05","b":109,"n":109},{"k":"s","s":8,"g":3,"d":"2018-03-14","b":175,"n":175},{"k":"s","s":8,"g":3,"d":"2018-04-27","b":262,"n":262},{"k":"s","s":8,"g":3,"d":"2018-06-18","b":371,"n":371},{"k":"s","s":8,"g":3,"d":"2018-07-27","b":393,"n":393},{"k":"s","s":8,"g":3,"d":"2018-07-31","b":395,"n":306},{"k":"s","s":8,"g":3,"d":"2018-08-22","b":402,"n":306},
{"k":"s","s":8,"g":4,"d":"2018-09-02","b":-13,"n":-13},{"k":"s","s":8,"g":4,"d":"2018-10-19","b":66,"n":66},{"k":"s","s":8,"g":4,"d":"2019-01-15","b":87,"n":87},{"k":"s","s":8,"g":4,"d":"2019-04-27","b":131,"n":131},{"k":"s","s":8,"g":4,"d":"2019-06-13","b":150,"n":150},{"k":"s","s":8,"g":4,"d":"2019-06-25","b":152,"n":0},{"k":"s","s":8,"g":4,"d":"2019-08-14","b":160,"n":-1180},{"k":"s","s":8,"g":4,"d":"2019-08-25","b":162,"n":-1180},
{"k":"s","s":8,"g":5,"d":"2019-09-02","b":-13,"n":-13},{"k":"s","s":8,"g":5,"d":"2019-09-09","b":57,"n":57},{"k":"s","s":8,"g":5,"d":"2019-11-14","b":87,"n":87},{"k":"s","s":8,"g":5,"d":"2020-01-23","b":131,"n":131},{"k":"s","s":8,"g":5,"d":"2020-05-08","b":153,"n":153},
{"k":"m","s":8,"g":1,"d":"2016-03-29","m":0},{"k":"m","s":8,"g":1,"d":"2016-05-30","m":0},{"k":"m","s":8,"g":1,"d":"2016-06-18","m":-153},{"k":"m","s":8,"g":1,"d":"2016-07-02","m":-546},{"k":"m","s":8,"g":1,"d":"2016-07-20","m":-983},{"k":"m","s":8,"g":1,"d":"2016-07-31","m":-1202},{"k":"m","s":8,"g":1,"d":"2016-08-29","m":-1237},
{"k":"m","s":8,"g":2,"d":"2017-03-25","m":0},{"k":"m","s":8,"g":2,"d":"2017-05-30","m":0},{"k":"m","s":8,"g":2,"d":"2017-06-18","m":-175},{"k":"m","s":8,"g":2,"d":"2017-07-02","m":-328},{"k":"m","s":8,"g":2,"d":"2017-07-20","m":-677},{"k":"m","s":8,"g":2,"d":"2017-08-07","m":-918},{"k":"m","s":8,"g":2,"d":"2017-08-22","m":-961},
{"k":"m","s":8,"g":3,"d":"2018-03-29","m":0},{"k":"m","s":8,"g":3,"d":"2018-06-07","m":0},{"k":"m","s":8,"g":3,"d":"2018-06-25","m":-109},{"k":"m","s":8,"g":3,"d":"2018-07-20","m":-240},{"k":"m","s":8,"g":3,"d":"2018-08-11","m":-371},{"k":"m","s":8,"g":3,"d":"2018-08-22","m":-393},
{"k":"m","s":8,"g":4,"d":"2019-04-01","m":0},{"k":"m","s":8,"g":4,"d":"2019-06-03","m":0},{"k":"m","s":8,"g":4,"d":"2019-06-18","m":-197},{"k":"m","s":8,"g":4,"d":"2019-07-02","m":-503},{"k":"m","s":8,"g":4,"d":"2019-07-20","m":-852},{"k":"m","s":8,"g":4,"d":"2019-08-07","m":-1202},{"k":"m","s":8,"g":4,"d":"2019-08-22","m":-1377},
{"k":"m","s":8,"g":5,"d":"2020-04-01","m":0},{"k":"m","s":8,"g":5,"d":"2020-05-15","m":0},
{"k":"p","s":8,"d":"2015-11-18","e":"2016-05-30","l":"non-melt"},{"k":"p","s":8,"d":"2016-06-07","e":"2016-06-07","l":"transit"},{"k":"p","s":8,"d":"2016-09-16","e":"2016-10-30","l":"non-melt"},{"k":"p","s":8,"d":"2016-11-20","e":"2017-05-30","l":"non-melt"},{"k":"p","s":8,"d":"2017-06-07","e":"2017-06-07","l":"transit"},{"k":"p","s":8,"d":"2017-09-02","e":"2018-05-12","l":"non-melt"},{"k":"p","s":8,"d":"2018-06-07","e":"2018-06-07","l":"transit"},{"k":"p","s":8,"d":"2018-09-02","e":"2019-05-30","l":"snow_cover"},{"k":"p","s":8,"d":"2019-09-02","e":"2020-05-19","l":"non-melt"},{"k":"p","s":8,"d":"2016-06-14","e":"2016-08-29","l":"melt"},{"k":"p","s":8,"d":"2017-06-14","e":"2017-08-22","l":"melt"},{"k":"p","s":8,"d":"2018-06-14","e":"2018-09-02","l":"melt"},{"k":"p","s":8,"d":"2019-05-30","e":"2019-08-22","l":"melt"},
{"k":"v","s":8,"d":"2016-07-11"},{"k":"v","s":8,"d":"2016-08-29"},{"k":"v","s":8,"d":"2017-07-13"},{"k":"v","s":8,"d":"2017-07-20"},{"k":"v","s":8,"d":"2017-09-16"},{"k":"v","s":8,"d":"2017-09-27"},{"k":"v","s":8,"d":"2018-07-02"},{"k":"v","s":8,"d":"2018-07-14"},{"k":"v","s":8,"d":"2018-07-31"},{"k":"v","s":8,"d":"2019-06-24"},{"k":"v","s":8,"d":"2019-08-14"},

{"k":"s","s":9,"g":1,"d":"2015-11-28","b":66,"n":66},{"k":"s","s":9,"g":1,"d":"2016-02-03","b":131,"n":131},{"k":"s","s":9,"g":1,"d":"2016-04-27","b":153,"n":153},{"k":"s","s":9,"g":1,"d":"2016-06-25","b":160,"n":150},{"k":"s","s":9,"g":1,"d":"2016-07-20","b":165,"n":20},{"k":"s","s":9,"g":1,"d":"2016-08-07","b":170,"n":-66},{"k":"s","s":9,"g":1,"d":"2016-08-29","b":175,"n":-66},
{"k":"s","s":9,"g":2,"d":"2016-09-05","b":-13,"n":-13},{"k":"s","s":9,"g":2,"d":"2016-10-30","b":66,"n":40},{"k":"s","s":9,"g":2,"d":"2016-12-20","b":127,"n":40},{"k":"s","s":9,"g":2,"d":"2017-03-14","b":153,"n":45},{"k":"s","s":9,"g":2,"d":"2017-05-27","b":165,"n":60},{"k":"s","s":9,"g":2,"d":"2017-06-25","b":175,"n":105},{"k":"s","s":9,"g":2,"d":"2017-07-13","b":180,"n":0},{"k":"s","s":9,"g":2,"d":"2017-08-07","b":190,"n":-319},{"k":"s","s":9,"g":2,"d":"2017-08-29","b":197,"n":-319},
{"k":"s","s":9,"g":3,"d":"2017-09-05","b":22,"n":22},{"k":"s","s":9,"g":3,"d":"2017-10-23","b":74,"n":74},{"k":"s","s":9,"g":3,"d":"2018-01-15","b":96,"n":96},{"k":"s","s":9,"g":3,"d":"2018-04-09","b":153,"n":153},{"k":"s","s":9,"g":3,"d":"2018-05-23","b":205,"n":205},{"k":"s","s":9,"g":3,"d":"2018-07-13","b":249,"n":249},{"k":"s","s":9,"g":3,"d":"2018-09-02","b":275,"n":275},
{"k":"s","s":9,"g":4,"d":"2018-09-09","b":-13,"n":-13},{"k":"s","s":9,"g":4,"d":"2018-10-30","b":66,"n":66},{"k":"s","s":9,"g":4,"d":"2019-01-26","b":87,"n":87},{"k":"s","s":9,"g":4,"d":"2019-05-05","b":109,"n":109},{"k":"s","s":9,"g":4,"d":"2019-06-18","b":115,"n":110},{"k":"s","s":9,"g":4,"d":"2019-06-25","b":116,"n":0},{"k":"s","s":9,"g":4,"d":"2019-08-14","b":120,"n":-1114},{"k":"s","s":9,"g":4,"d":"2019-08-29","b":122,"n":-1114},
{"k":"s","s":9,"g":5,"d":"2019-09-09","b":-13,"n":-13},{"k":"s","s":9,"g":5,"d":"2019-09-12","b":57,"n":57},{"k":"s","s":9,"g":5,"d":"2019-11-25","b":74,"n":74},{"k":"s","s":9,"g":5,"d":"2020-02-03","b":118,"n":118},{"k":"s","s":9,"g":5,"d":"2020-05-15","b":131,"n":131},
{"k":"m","s":9,"g":1,"d":"2016-04-01","m":0},{"k":"m","s":9,"g":1,"d":"2016-05-30","m":0},{"k":"m","s":9,"g":1,"d":"2016-06-18","m":-153},{"k":"m","s":9,"g":1,"d":"2016-07-06","m":-459},{"k":"m","s":9,"g":1,"d":"2016-07-17","m":-677},{"k":"m","s":9,"g":1,"d":"2016-08-04","m":-787},{"k":"m","s":9,"g":1,"d":"2016-08-29","m":-800},
{"k":"m","s":9,"g":2,"d":"2017-04-01","m":0},{"k":"m","s":9,"g":2,"d":"2017-05-30","m":0},{"k":"m","s":9,"g":2,"d":"2017-06-18","m":-153},{"k":"m","s":9,"g":2,"d":"2017-07-06","m":-328},{"k":"m","s":9,"g":2,"d":"2017-07-20","m":-524},{"k":"m","s":9,"g":2,"d":"2017-08-07","m":-655},{"k":"m","s":9,"g":2,"d":"2017-08-29","m":-690},
{"k":"m","s":9,"g":3,"d":"2018-04-01","m":0},{"k":"m","s":9,"g":3,"d":"2018-06-18","m":0},{"k":"m","s":9,"g":3,"d":"2018-07-13","m":-87},{"k":"m","s":9,"g":3,"d":"2018-08-07","m":-144},{"k":"m","s":9,"g":3,"d":"2018-09-02","m":-188},
{"k":"m","s":9,"g":4,"d":"2019-04-09","m":0},{"k":"m","s":9,"g":4,"d":"2019-06-10","m":0},{"k":"m","s":9,"g":4,"d":"2019-06-25","m":-240},{"k":"m","s":9,"g":4,"d":"2019-07-13","m":-590},{"k":"m","s":9,"g":4,"d":"2019-07-31","m":-940},{"k":"m","s":9,"g":4,"d":"2019-08-11","m":-1202},{"k":"m","s":9,"g":4,"d":"2019-08-29","m":-1254},
{"k":"m","s":9,"g":5,"d":"2020-04-01","m":0},{"k":"m","s":9,"g":5,"d":"2020-05-15","m":0},
{"k":"p","s":9,"d":"2015-11-25","e":"2016-05-23","l":"non-melt"},{"k":"p","s":9,"d":"2016-09-09","e":"2016-10-30","l":"non-melt"},{"k":"p","s":9,"d":"2016-11-20","e":"2017-05-30","l":"non-melt"},{"k":"p","s":9,"d":"2017-09-09","e":"2018-05-30","l":"non-melt"},{"k":"p","s":9,"d":"2018-09-02","e":"2019-05-30","l":"snow_cover"},{"k":"p","s":9,"d":"2019-09-09","e":"2020-05-19","l":"non-melt"},{"k":"p","s":9,"d":"2016-05-30","e":"2016-09-02","l":"melt"},{"k":"p","s":9,"d":"2017-05-30","e":"2017-09-02","l":"melt"},{"k":"p","s":9,"d":"2018-06-18","e":"2018-09-02","l":"melt"},{"k":"p","s":9,"d":"2019-05-30","e":"2019-09-02","l":"melt"},
{"k":"v","s":9,"d":"2016-07-13"},{"k":"v","s":9,"d":"2017-07-21"},{"k":"v","s":9,"d":"2018-07-31"},{"k":"v","s":9,"d":"2018-08-07"},{"k":"v","s":9,"d":"2019-06-28"},{"k":"v","s":9,"d":"2019-08-18"}
]},
"title":{"text":"date","orient":"bottom","anchor":"middle","offset":3,"dx":36,"fontSize":28},
"facet":{"field":"s","type":"ordinal","header":{"labels":false,"title":null,"labelPadding":0,"labelFontSize":1}},
"columns":3,
"spacing":{"row":8,"column":8},
"spec":{
"width":351,"height":237,
"resolve":{"axis":{"x":"independent","y":"independent"}},
"layer":[
{"transform":[{"filter":"datum.k==='h'"}],
 "mark":{"type":"rect","fill":"#D9D9D9"},
 "encoding":{
  "x":{"datum":{"year":2015,"month":9,"date":5},"type":"temporal","axis":null},
  "x2":{"datum":{"year":2020,"month":7,"date":30}},
  "y":{"datum":502,"type":"quantitative","axis":null},
  "y2":{"datum":978}}},
{"transform":[{"filter":"datum.k==='s'"}],
 "mark":{"type":"area","fill":"#009E73","fillOpacity":0.55},
 "encoding":{
  "x":{"field":"d","type":"temporal","scale":{"domain":[{"year":2015,"month":9,"date":5},{"year":2020,"month":7,"date":30}]},
   "axis":{"orient":"bottom","title":null,"format":"%Y","values":[{"year":2016,"month":1,"date":1},{"year":2017,"month":1,"date":1},{"year":2018,"month":1,"date":1},{"year":2019,"month":1,"date":1},{"year":2020,"month":1,"date":1}],"grid":true,"gridColor":"#FFFFFF","gridWidth":2,"domain":false,"labelFontSize":23,"labelColor":"#4D4D4D","tickColor":"#333333","tickSize":7,"labelPadding":2}},
  "y":{"field":"n","type":"quantitative","scale":{"domain":[-2126,978],"nice":false,"zero":false},
   "axis":{"orient":"left","title":null,"format":"d","values":[-2000,-1500,-1000,-500,0],"grid":true,"gridColor":"#FFFFFF","gridWidth":2,"domain":false,"labelFontSize":23,"labelColor":"#4D4D4D","tickColor":"#333333","tickSize":7,"labelPadding":2}},
  "y2":{"datum":0},
  "detail":{"field":"g"}}},
{"transform":[{"filter":"datum.k==='s'"}],
 "mark":{"type":"line","stroke":"#0A6FB5","strokeWidth":3.2},
 "encoding":{
  "x":{"field":"d","type":"temporal",
   "axis":{"orient":"top","title":null,"labels":false,"ticks":false,"domain":false,"grid":true,"gridColor":"#FFFFFF","gridWidth":1,"values":[{"year":2016,"month":7,"date":2},{"year":2017,"month":7,"date":2},{"year":2018,"month":7,"date":2},{"year":2019,"month":7,"date":2},{"year":2020,"month":7,"date":2}]}},
  "y":{"field":"b","type":"quantitative",
   "axis":{"orient":"right","title":null,"labels":false,"ticks":false,"domain":false,"grid":true,"gridColor":"#FFFFFF","gridWidth":1,"values":[-1750,-1250,-750,-250,250]}},
  "detail":{"field":"g"}}},
{"transform":[{"filter":"datum.k==='m'"}],
 "mark":{"type":"line","stroke":"#6A1208","strokeWidth":3.2},
 "encoding":{
  "x":{"field":"d","type":"temporal","axis":null},
  "y":{"field":"m","type":"quantitative","axis":null},
  "detail":{"field":"g"}}},
{"transform":[{"filter":"datum.k==='p'"}],
 "mark":{"type":"rule","strokeWidth":9,"strokeCap":"round"},
 "encoding":{
  "x":{"field":"d","type":"temporal","axis":null},
  "x2":{"field":"e"},
  "y":{"datum":-2000,"type":"quantitative","axis":null},
  "color":{"field":"l","type":"nominal",
   "scale":{"domain":["melt","transit","wet","non-melt","snow_cover"],"range":["#D55E00","#F0E442","#009E73","#56B4E9","#0072B2"]},
   "legend":{"title":"SAR state\u2212space label","symbolType":"circle","symbolSize":60,"titleLimit":600,"orient":"none","legendX":42,"legendY":810,
     "encode":{"symbols":{"update":{"fill":{"scale":"color","field":"value"},"stroke":{"value":"transparent"}}}}}}}},
{"transform":[{"filter":"datum.k==='v'"}],
 "mark":{"type":"rule","stroke":"#3A3A3A","strokeWidth":1.4,"strokeDash":[6,4]},
 "encoding":{
  "x":{"field":"d","type":"temporal","axis":null},
  "y":{"datum":-2126,"type":"quantitative","axis":null},
  "y2":{"datum":502}}},
{"transform":[{"filter":"datum.k==='h'"}],
 "mark":{"type":"text","fontSize":23,"color":"#1A1A1A","align":"center","baseline":"middle"},
 "encoding":{
  "x":{"datum":{"year":2018,"month":2,"date":15},"type":"temporal","axis":null},
  "y":{"datum":742,"type":"quantitative","axis":null},
  "text":{"field":"t"}}}
]}
}]
}],
"config":{
 "font":"Liberation Sans",
 "view":{"fill":"#EBEBEB","stroke":null},
 "title":{"fontWeight":"normal","color":"#000000","font":"Liberation Sans"},
 "legend":{"direction":"horizontal","titleOrient":"left","titleFontSize":24,"titleFontWeight":"normal","titleColor":"#000000","labelFontSize":23,"labelColor":"#000000","columnPadding":24,"labelOffset":26,"titlePadding":20}
}
}
